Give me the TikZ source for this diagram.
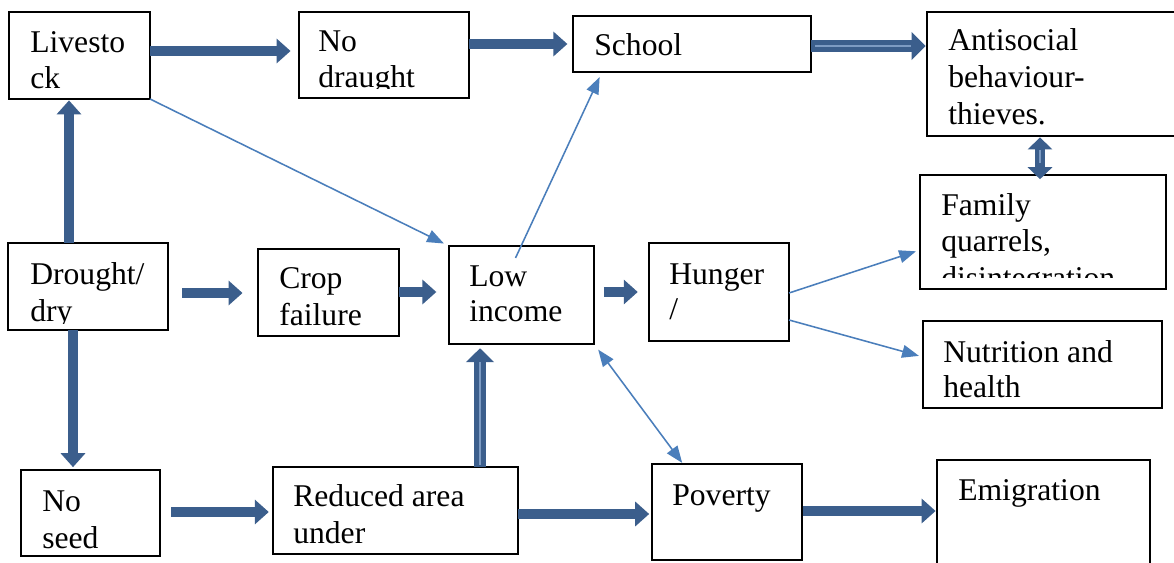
\documentclass[tikz,border=0pt]{standalone}
\usepackage{fontspec}
\setmainfont{Liberation Serif}
\usetikzlibrary{arrows.meta,calc}
\definecolor{thkc}{RGB}{59,94,140}
\definecolor{thnc}{RGB}{74,126,187}
\definecolor{innc}{RGB}{125,155,195}
\begin{document}
\begin{tikzpicture}[x=0.025cm,y=-0.025cm,
  bx/.style 2 args={draw=black, line width=0.9pt, minimum width=#1*0.025cm, minimum height=#2*0.025cm, inner sep=0pt, outer sep=0pt, anchor=north west},
  tx/.style={anchor=base west, inner sep=0pt, font=\fontsize{22.5}{26}\selectfont},
  thk/.style={draw=thkc, line width=0.26cm, -{Triangle[width=0.6cm,length=0.35cm]}},
  thkd/.style={draw=thkc, line width=0.3cm, -{Triangle[width=0.68cm,length=0.35cm]}},
  thkdd/.style={draw=thkc, line width=0.25cm, {Triangle[width=0.6cm,length=0.3cm]}-{Triangle[width=0.6cm,length=0.3cm]}},
  inn/.style={draw=innc, line width=1.2pt},
  thn/.style={draw=thnc, line width=1.1pt, -{Triangle[width=0.32cm,length=0.42cm]}},
  thndd/.style={draw=thnc, line width=1.1pt, {Triangle[width=0.32cm,length=0.42cm]}-{Triangle[width=0.32cm,length=0.42cm]}}
]
\useasboundingbox[fill=white] (0,0) rectangle (1174,563);

% boxes
\node[bx={141}{87}] (liv) at (9,12) {};
\node[bx={170}{86}] (nod) at (299,12) {};
\node[bx={238}{56}] (sch) at (573,16) {};
\node[bx={252}{124}] (ant) at (927,12) {};
\node[bx={246}{114}] (fam) at (920,175) {};
\node[bx={239}{87}] (nut) at (923,321) {};
\node[bx={160}{87}] (dro) at (8,243) {};
\node[bx={141}{87}] (cro) at (258,249) {};
\node[bx={145}{98}] (low) at (449,246) {};
\node[bx={140}{98}] (hun) at (649,243) {};
\node[bx={139}{86}] (nos) at (21,470) {};
\node[bx={245}{87}] (red) at (273,467) {};
\node[bx={150}{96}] (pov) at (652,464) {};
\node[bx={213}{115}] (emi) at (937,460) {};

% texts
\begin{scope}\clip (liv.north west) rectangle (liv.east |- 0,92);
\node[tx] (t1) at (30,53) {Livesto};
\node[tx] (t2) at (30,89) {ck};
\end{scope}
\begin{scope}\clip (nod.north west) rectangle (nod.east |- 0,89);
\node[tx] (t3) at (318,52) {No};
\node[tx] (t4) at (318,88) {draught};
\end{scope}
\node[tx] (t5) at (594,56) {School};
\begin{scope}\clip (ant.north west) rectangle (ant.east |- 0,127);
\node[tx] (t6) at (948,51) {Antisocial};
\node[tx] (t7) at (948,88) {behaviour-};
\node[tx] (t8) at (948,125) {thieves.};
\end{scope}
\begin{scope}\clip (fam.north west) rectangle (fam.east |- 0,278);
\node[tx] (t9) at (941,216) {Family};
\node[tx] (t10) at (941,252) {quarrels,};
\node[tx] (t11) at (941,289) {disintegration};
\end{scope}
\node[tx] (t12) at (943,362) {Nutrition and};
\node[tx] (t13) at (943,397) {health};
\begin{scope}\clip (dro.north west) rectangle (dro.east |- 0,323);
\node[tx] (t14) at (30,284) {Drought/};
\node[tx] (t15) at (30,321) {dry};
\end{scope}
\node[tx] (t16) at (279,288) {Crop};
\node[tx] (t17) at (279,325) {failure};
\node[tx] (t18) at (469,286) {Low};
\node[tx] (t19) at (469,322) {income};
\node[tx] (t20) at (669,284) {Hunger};
\node[tx] (t21) at (669,320) {/};
\node[tx] (t22) at (42,511) {No};
\node[tx] (t23) at (42,548) {seed};
\node[tx] (t24) at (293,506) {Reduced area};
\node[tx] (t25) at (293,543) {under};
\node[tx] (t26) at (672,505) {Poverty};
\node[tx] (t27) at (958,500) {Emigration};

% thick arrows
\draw[thk, shorten >=6] (liv.east |- 0,51) -- (nod.west |- 0,51);
\draw[thk, shorten >=4] (nod.east |- 0,44) -- (sch.west |- 0,44);
\draw[thkd, shorten >=1] (sch.east |- 0,46) -- (ant.west |- 0,46);
\draw[inn] ($(sch.east |- 0,46)+(4,0)$) -- ($(ant.west |- 0,46)+(-16,0)$);
\draw[thkdd, shorten <=1, shorten >=-3] (1040,0 |- ant.south) -- (1040,0 |- fam.north);
\draw[inn] ($(1040,0 |- ant.south)+(0,14)$) -- ($(1040,0 |- fam.north)+(0,-12)$);
\draw[thk, shorten >=1] (69,0 |- dro.north) -- (69,0 |- liv.south);
\draw[thk, shorten <=10, shorten >=11] (dro.east |- 0,293) -- (cro.west |- 0,293);
\draw[thk, shorten >=9] (cro.east |- 0,292) -- (low.west |- 0,292);
\draw[thk, shorten <=7, shorten >=8] (low.east |- 0,292) -- (hun.west |- 0,292);
\draw[thk, shorten >=2] (73,0 |- dro.south) -- (73,0 |- nos.north);
\draw[thk, shorten <=8, shorten >=3] (nos.east |- 0,512) -- (red.west |- 0,512);
\draw[thkd, shorten >=3] (480,0 |- red.north) -- (480,0 |- low.south);
\draw[inn] ($(480,0 |- red.north)+(0,-2)$) -- ($(480,0 |- low.south)+(0,18)$);
\draw[thk, shorten >=2] (red.east |- 0,514) -- (pov.west |- 0,514);
\draw[thk, shorten <=1, shorten >=1] (pov.east |- 0,511) -- (emi.west |- 0,511);

% thin arrows
\draw[thn, shorten >=4] (liv.south east) -- (low.north west);
\draw[thn, shorten >=4] ($(low.north)+(-6,12)$) -- (602,0 |- sch.south);
\draw[thn, shorten >=3] (hun.east |- 0,293) -- (fam.west |- 0,250);
\draw[thn, shorten >=3] (hun.east |- 0,320) -- (nut.west |- 0,357);
\draw[thndd, shorten <=5, shorten >=1] (low.south east) -- (683,0 |- pov.north);
\end{tikzpicture}
\end{document}
